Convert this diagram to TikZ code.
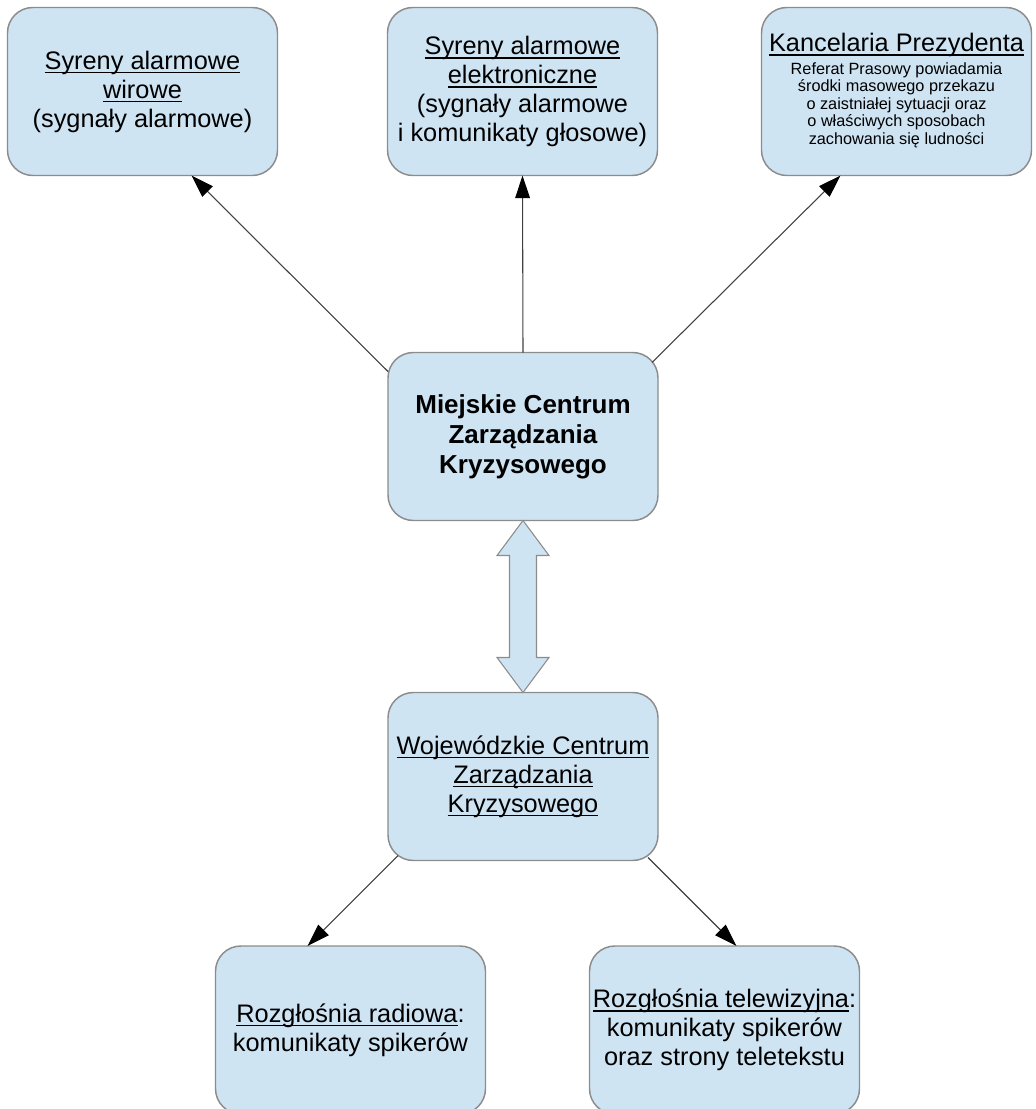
\documentclass[tikz,border=0pt]{standalone}
\usepackage{fontspec}
\setmainfont{Liberation Sans}
\usetikzlibrary{arrows.meta,calc}
\definecolor{boxfill}{HTML}{CFE4F3}
\definecolor{boxline}{HTML}{8C8C8C}
\definecolor{connc}{HTML}{404040}
\newsavebox\myulbox
\newcommand\myul[1]{\sbox\myulbox{#1}\rlap{\rule[-3pt]{\wd\myulbox}{1pt}}\usebox\myulbox}
\begin{document}
\begin{tikzpicture}[x=0.75pt,y=-0.75pt,
  box/.style={draw=boxline, line width=1.1pt, fill=boxfill, rounded corners=19pt,
    minimum width=202.5pt, minimum height=126pt, inner sep=0pt, outer sep=0pt,
    align=center, font=\fontsize{19}{21.75}\selectfont, text=black},
  link/.style={draw=connc, line width=0.8pt, -{Triangle[length=17pt,width=11pt,color=black]}},
  dbl/.style={draw=boxline, line width=0.8pt, fill=boxfill, line join=miter}
]
\useasboundingbox (0,0) rectangle (1035,1109);
\clip (0,0) rectangle (1035,1109);

\node[box] (A) at (142.5,91.5) {\myul{Syreny alarmowe}\\\myul{wirowe}\\(sygnały alarmowe)};
\node[box] (B) at (522.5,91.5) {\myul{Syreny alarmowe}\\\myul{elektroniczne}\\(sygnały alarmowe\\i komunikaty głosowe)};
\node[box] (C) at (896.5,91.5) {\myul{Kancelaria Prezydenta}\\[-5pt]{\fontsize{12.2}{13.2}\selectfont\begin{tabular}[t]{@{}c@{}}Referat Prasowy powiadamia\\środki masowego przekazu\\o zaistniałej sytuacji oraz\\o właściwych sposobach\\zachowania się ludności\end{tabular}}};
\node[box, font=\fontsize{19.5}{22.5}\selectfont\bfseries] (M) at (523,436.5) {Miejskie Centrum\\Zarządzania\\Kryzysowego};
\node[box] (W) at (523,776.5) {\myul{Wojewódzkie Centrum}\\\myul{Zarządzania}\\\myul{Kryzysowego}};
\node[box] (R) at (350.5,1030) {\myul{Rozgłośnia radiowa}:\\komunikaty spikerów};
\node[box] (T) at (724.5,1030) {\myul{Rozgłośnia telewizyjna}:\\komunikaty spikerów\\oraz strony teletekstu};

\draw[link] ($(M.north west)+(0,19)$) -- ($(A.south west)+(184,0)$);
\draw[link] (M.north) -- (B.south);
\draw[link] ($(M.north east)+(-6,10)$) -- ($(C.south west)+(79,0)$);
\draw[link] ($(W.south west)+(10,-5)$) -- ($(R.north west)+(92,0)$);
\draw[link] ($(W.south east)+(-10,-3)$) -- ($(T.north west)+(147,0)$);

\path[dbl] (M.south) -- ++(26,35) -- ++(-12.5,0) -- ($(W.north)+(13.5,-35)$) -- ++(12.5,0)
  -- (W.north) -- ++(-26,-35) -- ++(12.5,0) -- ($(M.south)+(-13.5,35)$) -- ++(-12.5,0) -- cycle;
\end{tikzpicture}
\end{document}
